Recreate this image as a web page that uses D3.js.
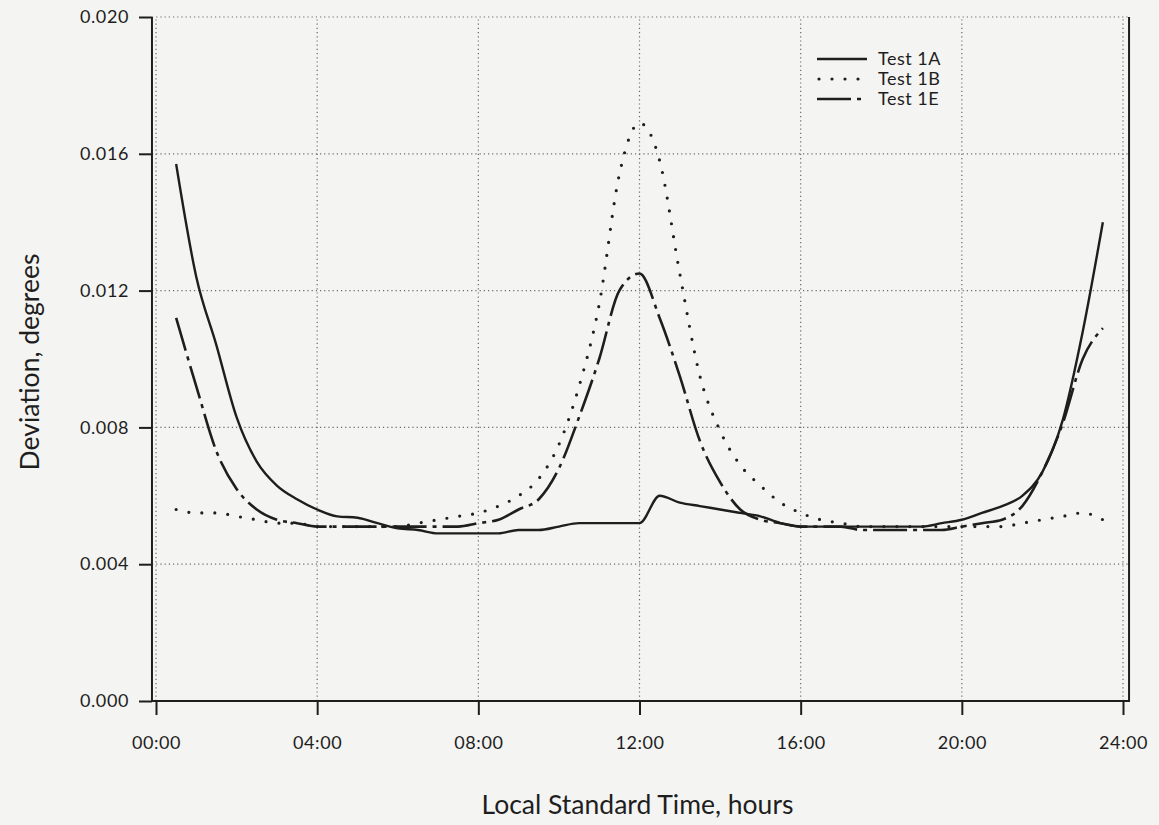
<!DOCTYPE html>
<html>
<head>
<meta charset="utf-8">
<script src="https://cdn.jsdelivr.net/npm/d3@7"></script>
<style>
  html, body { margin: 0; padding: 0; background: #f4f4f2; }
  #chart { width: 1159px; height: 825px; }
  text { font-family: Lato, "Open Sans", sans-serif; fill: #1e1e1e; }
</style>
</head>
<body>
<div id="chart"></div>
<script>
/* ============================================
   DEVIATION vs LOCAL STANDARD TIME
   ============================================ */

// half-hour sample times, hours
const hours = [
  0.5, 1.0, 1.5, 2.0, 2.5, 3.0, 3.5, 4.0, 4.5, 5.0, 5.5, 6.0,
  6.5, 7.0, 7.5, 8.0, 8.5, 9.0, 9.5, 10.0, 10.5, 11.0, 11.5, 12.0,
  12.5, 13.0, 13.5, 14.0, 14.5, 15.0, 15.5, 16.0, 16.5, 17.0, 17.5, 18.0,
  18.5, 19.0, 19.5, 20.0, 20.5, 21.0, 21.5, 22.0, 22.5, 23.0, 23.5
];

// deviation, degrees
const test1A = [
  0.0157, 0.0124, 0.0104, 0.0083, 0.0070, 0.0063, 0.0059, 0.0056, 0.0054, 0.00536, 0.0052, 0.00505,
  0.0050, 0.0049, 0.0049, 0.0049, 0.0049, 0.0050, 0.0050, 0.0051, 0.0052, 0.0052, 0.0052, 0.0052,
  0.0060, 0.0058, 0.0057, 0.0056, 0.0055, 0.0054, 0.0052, 0.0051, 0.0051, 0.0051, 0.0051, 0.0051,
  0.0051, 0.0051, 0.0052, 0.0053, 0.0055, 0.0057, 0.0060, 0.0067, 0.0082, 0.0108, 0.0140
];

const test1B = [
  0.0056, 0.0055, 0.0055, 0.0054, 0.0053, 0.0052, 0.0052, 0.0051, 0.0051, 0.0051, 0.0051, 0.0051,
  0.0052, 0.0053, 0.0054, 0.0055, 0.0057, 0.0060, 0.0065, 0.0075, 0.0092, 0.0116, 0.0154, 0.0169,
  0.0158, 0.0125, 0.0095, 0.0079, 0.0069, 0.0063, 0.0058, 0.0055, 0.0053, 0.0052, 0.0051, 0.0051,
  0.0051, 0.0051, 0.0051, 0.0051, 0.0051, 0.0051, 0.0052, 0.0053, 0.0054, 0.0055, 0.0053
];

const test1E = [
  0.0112, 0.0092, 0.0073, 0.0062, 0.0056, 0.0053, 0.0052, 0.0051, 0.0051, 0.0051, 0.0051, 0.0051,
  0.0051, 0.0051, 0.0051, 0.0052, 0.0053, 0.0056, 0.0059, 0.0068, 0.0083, 0.0100, 0.0120, 0.0125,
  0.0112, 0.0095, 0.0076, 0.0064, 0.0056, 0.0053, 0.0052, 0.0051, 0.0051, 0.0051, 0.0050, 0.0050,
  0.0050, 0.0050, 0.0050, 0.0051, 0.0052, 0.0053, 0.0057, 0.0067, 0.0081, 0.0100, 0.0109
];

const seriesNames = ['Test 1A', 'Test 1B', 'Test 1E'];

const xTickValues = [0, 4, 8, 12, 16, 20, 24];
const xTickLabels = ['00:00', '04:00', '08:00', '12:00', '16:00', '20:00', '24:00'];
const yTickValues = [0.000, 0.004, 0.008, 0.012, 0.016, 0.020];

const Chart = {
  ink: '#1e1e1e',

  // line style per series
  styles: {
    'Test 1A': { dash: null, width: 2.4, cap: 'butt' },
    'Test 1B': { dash: '0,13', width: 3.2, cap: 'round' },
    'Test 1E': { dash: '34,6,4,6', width: 2.6, cap: 'butt' }
  },

  init() {
    const container = document.getElementById('chart');
    container.innerHTML = '';

    const W = 1159, H = 825;
    const svg = d3.select(container)
      .append('svg')
      .attr('width', W)
      .attr('height', H);

    // scales
    const x = d3.scaleLinear().domain([0, 24]).range([156, 1123]);
    const y = d3.scaleLinear().domain([0, 0.02]).range([701, 17]);

    const frameLeft = x(-0.1);
    const frameRight = x(24.15);

    // dotted grid
    const grid = svg.append('g')
      .attr('stroke', '#6a6a6a')
      .attr('stroke-width', 1.2)
      .attr('stroke-dasharray', '1.2,3');

    grid.selectAll('.vgrid')
      .data(xTickValues)
      .join('line')
      .attr('x1', d => x(d)).attr('x2', d => x(d))
      .attr('y1', y(0)).attr('y2', y(0.02));

    grid.selectAll('.hgrid')
      .data(yTickValues.filter(v => v > 0))
      .join('line')
      .attr('x1', frameLeft).attr('x2', frameRight)
      .attr('y1', d => y(d)).attr('y2', d => y(d));

    // series
    const data = [test1A, test1B, test1E];
    const line = d3.line()
      .x((d, i) => x(hours[i]))
      .y(d => y(d))
      .curve(d3.curveMonotoneX);

    seriesNames.forEach((name, i) => {
      const st = this.styles[name];
      svg.append('path')
        .datum(data[i])
        .attr('fill', 'none')
        .attr('stroke', this.ink)
        .attr('stroke-width', st.width)
        .attr('stroke-linecap', st.cap)
        .attr('stroke-dasharray', st.dash)
        .attr('d', line);
    });

    // frame: left, bottom, right
    svg.append('path')
      .attr('fill', 'none')
      .attr('stroke', this.ink)
      .attr('stroke-width', 2)
      .attr('d', `M${frameLeft},${y(0.02)}V${y(0)}H${frameRight}V${y(0.02)}`);

    // axes
    const yAxis = d3.axisLeft(y)
      .tickValues(yTickValues)
      .tickFormat(d3.format('.3f'))
      .tickSize(13)
      .tickPadding(10);

    const gy = svg.append('g')
      .attr('transform', `translate(${frameLeft},0)`)
      .call(yAxis);

    const xAxis = d3.axisBottom(x)
      .tickValues(xTickValues)
      .tickFormat((d, i) => xTickLabels[i])
      .tickSize(14)
      .tickPadding(21);

    const gx = svg.append('g')
      .attr('transform', `translate(0,${y(0)})`)
      .call(xAxis);

    [gx, gy].forEach(g => {
      g.select('.domain').remove();
      g.selectAll('.tick line')
        .attr('stroke', this.ink)
        .attr('stroke-width', 2);
      g.selectAll('.tick text')
        .style('font-family', 'Lato, "Open Sans", sans-serif')
        .style('font-size', '18px')
        .style('letter-spacing', '0.6px')
        .attr('fill', this.ink);
    });

    // axis titles
    svg.append('text')
      .attr('x', (x(0) + x(24)) / 2 - 2)
      .attr('y', 814)
      .attr('text-anchor', 'middle')
      .style('font-size', '26.5px')
      .text('Local Standard Time, hours');

    svg.append('text')
      .attr('transform', `translate(39, ${(y(0) + y(0.02)) / 2 + 3}) rotate(-90)`)
      .attr('text-anchor', 'middle')
      .style('font-size', '26.5px')
      .text('Deviation, degrees');

    // legend
    const legend = svg.append('g')
      .attr('transform', 'translate(817, 59)');

    seriesNames.forEach((name, i) => {
      const st = this.styles[name];
      const g = legend.append('g')
        .attr('transform', `translate(0, ${i * 20})`);

      g.append('line')
        .attr('x1', st.cap === 'round' ? 2 : 0)
        .attr('x2', 50)
        .attr('y1', 0).attr('y2', 0)
        .attr('stroke', this.ink)
        .attr('stroke-width', st.width)
        .attr('stroke-linecap', st.cap)
        .attr('stroke-dasharray', st.dash);

      g.append('text')
        .attr('x', 61)
        .attr('y', 6)
        .style('font-size', '18px')
        .style('letter-spacing', '0.5px')
        .text(name);
    });
  }
};

Chart.init();
</script>
</body>
</html>
